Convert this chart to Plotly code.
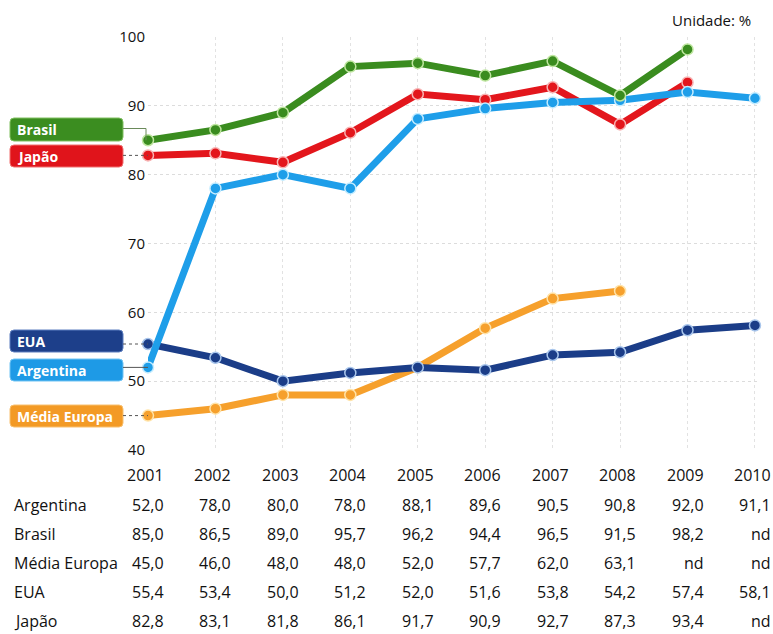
import plotly.graph_objects as go

years = [2001, 2002, 2003, 2004, 2005, 2006, 2007, 2008, 2009, 2010]
year_labels = ["2001", "2002", "2003", "2004", "2005", "2006", "2007", "2008", "2009", "2010"]

argentina = [52.0, 78.0, 80.0, 78.0, 88.1, 89.6, 90.5, 90.8, 92.0, 91.1]
brasil = [85.0, 86.5, 89.0, 95.7, 96.2, 94.4, 96.5, 91.5, 98.2, None]
media_europa = [45.0, 46.0, 48.0, 48.0, 52.0, 57.7, 62.0, 63.1, None, None]
eua = [55.4, 53.4, 50.0, 51.2, 52.0, 51.6, 53.8, 54.2, 57.4, 58.1]
japao = [82.8, 83.1, 81.8, 86.1, 91.7, 90.9, 92.7, 87.3, 93.4, None]

table_rows = ["Argentina", "Brasil", "Média Europa", "EUA", "Japão"]
table_data = [argentina, brasil, media_europa, eua, japao]

y_ticks = [40, 50, 60, 70, 80, 90, 100]

# page geometry (pixels in the 773x634 window)
W, H = 773, 634
L, R, T, B = 148, 757, 37, 450
PW, PH = R - L, B - T
X_PER_YEAR = 67.44


def px(xp):
    return (xp - L) / PW


def py(yp):
    return (B - yp) / PH


FONT = "Open Sans"

series = [
    # name, data, line colour, marker outline, box colour, box border, box top/bottom (px)
    ("Média Europa", media_europa, "#f6a02c", "#ffe3a8", "#f39a25", "#f8c070", 405, 427),
    ("EUA", eua, "#1b3d88", "#a9c6ec", "#1d3f8a", "#5d7fc0", 330, 352),
    ("Japão", japao, "#e3161c", "#f7b3b3", "#e0141b", "#f07070", 145, 167),
    ("Argentina", argentina, "#1e9ee9", "#c4ecff", "#1e9ae6", "#70c4f4", 359, 381),
    ("Brasil", brasil, "#3a8c1f", "#bfe6a0", "#3b8d20", "#80c060", 118, 141),
]

fig = go.Figure()
for name, data, col, outline, bcol, bborder, btop, bbot in series:
    fig.add_trace(go.Scatter(
        x=years, y=data, mode="lines+markers", name=name,
        line=dict(color=col, width=7),
        marker=dict(size=11, color=col, line=dict(color=outline, width=1.5)),
        cliponaxis=False, connectgaps=False, showlegend=False,
    ))

shapes = []
annotations = []


def rounded_rect(x0, y0, x1, y1, r):
    X0, X1 = px(x0), px(x1)
    Y0, Y1 = py(y0), py(y1)
    rx = r / PW
    ry = r / PH
    return (f"M {X0+rx},{Y0} L {X1-rx},{Y0} Q {X1},{Y0} {X1},{Y0-ry} "
            f"L {X1},{Y1+ry} Q {X1},{Y1} {X1-rx},{Y1} L {X0+rx},{Y1} "
            f"Q {X0},{Y1} {X0},{Y1+ry} L {X0},{Y0-ry} Q {X0},{Y0} {X0+rx},{Y0} Z")


for name, data, col, outline, bcol, bborder, btop, bbot in series:
    shapes.append(dict(
        type="path", xref="paper", yref="paper",
        path=rounded_rect(10, btop, 123, bbot, 4),
        fillcolor=bcol, line=dict(color=bborder, width=1), layer="above",
    ))
    annotations.append(dict(
        xref="paper", yref="paper", x=px(15), y=py((btop + bbot) / 2),
        text=f"<b>{name}</b>", showarrow=False, xanchor="left", yanchor="middle",
        font=dict(family=FONT, size=14, color="white"),
    ))
    cy = (btop + bbot) / 2
    first = data[0]
    if name == "Brasil":
        bend = (B - (cy - 1)) / PH * 60 + 40
        shapes.append(dict(type="line", xref="paper", yref="y",
                           x0=px(123), x1=px(146), y0=bend, y1=bend,
                           line=dict(color="#6a8a5a", width=1)))
        shapes.append(dict(type="line", xref="paper", yref="y",
                           x0=px(146), x1=px(146), y0=bend, y1=first,
                           line=dict(color="#6a8a5a", width=1)))
    else:
        shapes.append(dict(type="line", xref="paper", yref="y",
                           x0=px(123), x1=0, y0=first, y1=first,
                           line=dict(color="#555555", width=1,
                                     dash="dot" if name in ("Japão", "Média Europa", "EUA") else "solid")))

# Table: year header and values
year_y = 475
row_ys = [505, 534, 563, 592, 621]
for yr, lab in zip(years, year_labels):
    annotations.append(dict(
        xref="x", yref="paper", x=yr, y=py(year_y), text=lab, showarrow=False,
        xanchor="right", yanchor="middle", xshift=18,
        font=dict(family=FONT, size=16, color="#111111"),
    ))
for rname, rdata, ry in zip(table_rows, table_data, row_ys):
    annotations.append(dict(
        xref="paper", yref="paper", x=px(12), y=py(ry), text=rname, showarrow=False,
        xanchor="left", yanchor="middle",
        font=dict(family=FONT, size=16, color="#111111"),
    ))
    for yr, v in zip(years, rdata):
        txt = "nd" if v is None else f"{v:.1f}".replace(".", ",")
        annotations.append(dict(
            xref="x", yref="paper", x=yr, y=py(ry), text=txt, showarrow=False,
            xanchor="right", yanchor="middle", xshift=18,
            font=dict(family=FONT, size=16, color="#111111"),
        ))

annotations.append(dict(
    xref="paper", yref="paper", x=px(753), y=py(20), text="Unidade: %",
    showarrow=False, xanchor="right", yanchor="middle",
    font=dict(family=FONT, size=15, color="#111111"),
))

fig.update_layout(
    width=W, height=H,
    margin=dict(l=L, r=W - R, t=T, b=H - B, pad=0),
    paper_bgcolor="white", plot_bgcolor="white",
    shapes=shapes, annotations=annotations,
    xaxis=dict(range=[2001, 2001 + PW / X_PER_YEAR], tickvals=years, showticklabels=False,
               showgrid=True, gridcolor="#e2e2e2", griddash="dot", gridwidth=1,
               zeroline=False, showline=False, ticks=""),
    yaxis=dict(range=[40, 100], tickvals=y_ticks, ticktext=[str(t) for t in y_ticks],
               showgrid=True, gridcolor="#dcdcdc", griddash="dot", gridwidth=1,
               zeroline=False, showline=False, ticks="", ticklabelstandoff=2,
               tickfont=dict(family=FONT, size=15, color="#111111")),
)

fig.write_html(
    "out.html",
    config={"displayModeBar": False},
    post_script="document.body.style.margin='0';document.body.style.overflow='hidden';",
)
